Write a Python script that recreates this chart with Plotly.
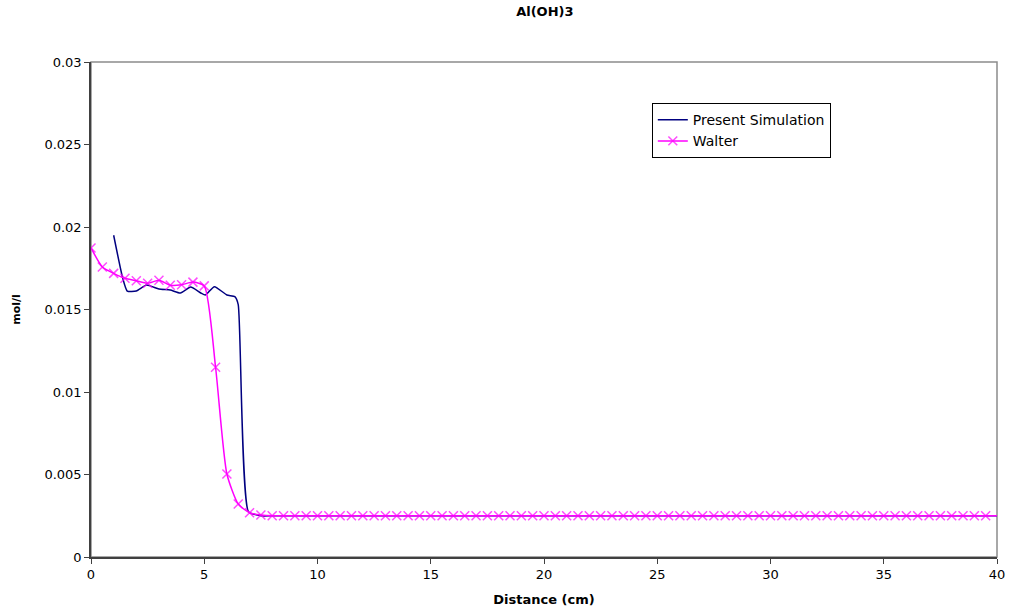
import plotly.graph_objects as go

# Walter data (every 0.5 cm)
walter_x = [i * 0.5 for i in range(81)]
walter_head = [0.01873, 0.01758, 0.01719, 0.01689, 0.01674, 0.01659, 0.01677, 0.01647,
               0.01650, 0.01666, 0.01643, 0.0115, 0.00503, 0.00321, 0.00268, 0.00255]
walter_y = walter_head + [0.0025] * (81 - len(walter_head))

# Present simulation
sim_x = [1.0, 1.4, 1.6, 2.0, 2.45, 3.0, 3.5, 3.95, 4.4, 4.85, 5.05, 5.45, 6.0, 6.35, 6.5, 6.95, 7.5] + \
        [8.0 + 0.5 * i for i in range(65)]
sim_y = [0.0195, 0.0169, 0.01612, 0.01612, 0.01648, 0.01624, 0.01618, 0.0160, 0.01636, 0.0160,
         0.01588, 0.01638, 0.01588, 0.01578, 0.0153, 0.00275, 0.0025] + [0.0025] * 65

y_ticks = [0, 0.005, 0.01, 0.015, 0.02, 0.025, 0.03]
y_ticktext = ["0", "0.005", "0.01", "0.015", "0.02", "0.025", "0.03"]
x_ticks = [0, 5, 10, 15, 20, 25, 30, 35, 40]

FONT = "DejaVu Sans, Arial, sans-serif"

fig = go.Figure()
fig.add_trace(go.Scatter(
    x=sim_x, y=sim_y, mode="lines", name="Present Simulation",
    line=dict(color="#000080", width=1.5, shape="spline", smoothing=0.5),
))
sizes = [9] * (len(walter_x) - 1) + [0]
fig.add_trace(go.Scatter(
    x=walter_x, y=walter_y, mode="lines+markers", name="Walter",
    line=dict(color="#FF00FF", width=1.5, shape="spline", smoothing=0.6),
    marker=dict(symbol="x-thin", size=sizes, line=dict(color="#FF00FF", width=1.5), color="#FF00FF"),
))

fig.update_layout(
    width=1009, height=616,
    margin=dict(l=91, r=12, t=62, b=59),
    paper_bgcolor="white", plot_bgcolor="white",
    font=dict(family=FONT, size=13, color="black"),
    title=dict(text="<b>Al(OH)3</b>", x=0.54, xanchor="center", y=0.988, yanchor="top",
               font=dict(family=FONT, size=13, color="black")),
    showlegend=True,
    legend=dict(x=0.619, y=0.917, xanchor="left", yanchor="top",
                bordercolor="black", borderwidth=1, bgcolor="white",
                font=dict(family=FONT, size=14, color="black"),
                tracegroupgap=0, itemwidth=30),
    shapes=[dict(type="rect", xref="paper", yref="paper", x0=0, y0=0, x1=1, y1=1,
                 line=dict(color="#8c8c8c", width=1.5), layer="below")],
)
fig.update_xaxes(
    range=[0, 40], tickvals=x_ticks, ticks="outside", ticklen=5, tickcolor="#404040",
    showline=True, linecolor="#404040", linewidth=1.5, showgrid=False, zeroline=False,
    automargin=False,
    tickfont=dict(family=FONT, size=13, color="black"),
    title=dict(text="<b>Distance (cm)</b>", font=dict(family=FONT, size=13, color="black"), standoff=14),
)
fig.update_yaxes(
    range=[0, 0.03], tickvals=y_ticks, ticktext=y_ticktext, ticks="outside", ticklen=5,
    tickcolor="#404040", showline=True, linecolor="#404040", linewidth=1.5,
    showgrid=False, zeroline=False, automargin=False,
    tickfont=dict(family=FONT, size=13, color="black"),
    title=dict(text="<b>mol/l</b>", font=dict(family=FONT, size=11, color="black"), standoff=22),
)

fig.write_html("out.html")
